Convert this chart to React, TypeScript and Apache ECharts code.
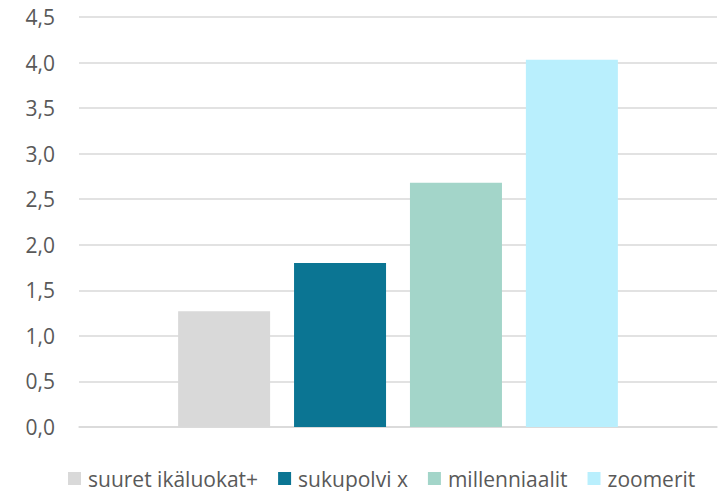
import React, { useEffect, useRef } from "react";
import * as echarts from "echarts";

const categories = [""];
const seriesNames = ["suuret ikäluokat+", "sukupolvi x", "millenniaalit", "zoomerit"];
const seriesValues = [1.27, 1.8, 2.68, 4.03];
const seriesColors = ["#d9d9d9", "#0b7593", "#a3d5c9", "#b9effd"];

export default function App() {
  const ref = useRef<HTMLDivElement>(null);
  useEffect(() => {
    if (!ref.current) return;
    const chart = echarts.init(ref.current, null, { renderer: "svg" });
    const font = "'Open Sans', sans-serif";
    chart.setOption({
      animation: false,
      grid: { left: 79, right: 11, top: 17, bottom: 64 },
      legend: {
        bottom: -3,
        left: 63,
        itemWidth: 13,
        itemHeight: 13,
        itemGap: 20,
        icon: "rect",
        textStyle: { color: "#595959", fontSize: 21, fontFamily: font, padding: [0, 0, 0, 2] },
        data: seriesNames,
      },
      xAxis: {
        type: "category",
        data: categories,
        axisLine: { show: true, lineStyle: { color: "#d9d9d9", width: 1.5 } },
        axisTick: { show: false },
        axisLabel: { show: false },
      },
      yAxis: {
        type: "value",
        min: 0,
        max: 4.5,
        interval: 0.5,
        axisLine: { show: false },
        axisTick: { show: false },
        splitLine: { lineStyle: { color: "#d9d9d9", width: 1.5 } },
        axisLabel: {
          color: "#595959",
          fontSize: 21,
          fontFamily: font,
          margin: 24,
          formatter: (v: number) => v.toFixed(1).replace(".", ","),
        },
      },
      series: seriesNames.map((name, i) => ({
        name,
        type: "bar",
        data: [seriesValues[i]],
        barWidth: 92,
        barGap: "26%",
        itemStyle: { color: seriesColors[i] },
      })),
    });
    return () => chart.dispose();
  }, []);
  return <div ref={ref} style={{ width: 728, height: 491, position: "absolute", left: 0, top: 0 }} />;
}
